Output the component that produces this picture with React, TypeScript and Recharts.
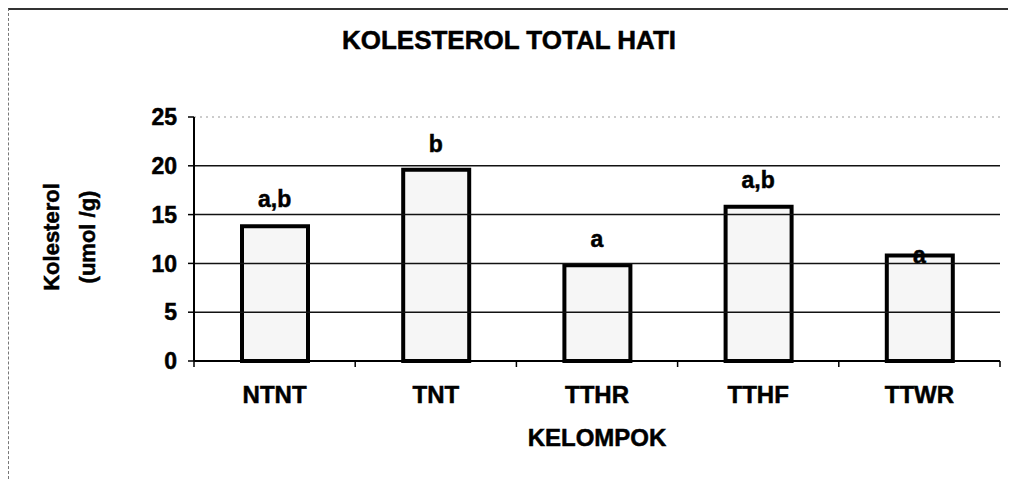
import { Bar, ComposedChart, LabelList, Line, ReferenceLine, XAxis, YAxis } from 'recharts';

const categories = ['NTNT', 'TNT', 'TTHR', 'TTHF', 'TTWR'];
const values = [13.8, 19.6, 9.8, 15.8, 10.8];
const letters = ['a,b', 'b', 'a', 'a,b', 'a'];
// where the significance letters sit (baseline, in axis units)
const letterAt = [15.8, 21.4, 11.7, 17.7, 10.0];
const yTicks = [0, 5, 10, 15, 20, 25];
const gridValues = [5, 10, 15, 20];

const data = categories.map((name, i) => ({
	name,
	value: values[i],
	letter: letters[i],
	letterAt: letterAt[i],
}));

const W = 1011;
const H = 479;
const margin = { top: 117, right: 11, bottom: 0, left: 134 };
const Y_AXIS_W = 60;
const X_AXIS_H = 118;
const plotW = W - margin.left - margin.right - Y_AXIS_W;
const band = plotW / categories.length;

const font = '"Liberation Sans", Arial, sans-serif';
const heavy = { fontFamily: font, fontWeight: 'bold' as const, WebkitTextStroke: '0.5px #000' };

function XTick(props: any) {
	const { x, y, payload, index } = props;
	return (
		<g>
			<line x1={x - band / 2} y1={y} x2={x - band / 2} y2={y + 6} stroke="#000" strokeWidth={1.5} />
			{index === categories.length - 1 && (
				<line x1={x + band / 2} y1={y} x2={x + band / 2} y2={y + 6} stroke="#000" strokeWidth={1.5} />
			)}
			<text
				x={x}
				y={y + 42}
				textAnchor="middle"
				fontFamily={font}
				fontWeight="bold"
				fontSize={24}
				fill="#000"
				stroke="#000"
				strokeWidth={0.5}
			>
				{payload.value}
			</text>
		</g>
	);
}

function LetterLabel(props: any) {
	const { x, y, value } = props;
	return (
		<text
			x={x}
			y={y}
			textAnchor="middle"
			fontFamily={font}
			fontWeight="bold"
			fontSize={23}
			fill="#000"
			stroke="#000"
			strokeWidth={0.5}
		>
			{value}
		</text>
	);
}

export default function App() {
	return (
		<div style={{ position: 'absolute', left: 0, top: 0, width: W, height: H, background: '#fff' }}>
			<div
				style={{
					position: 'absolute',
					left: 8,
					top: 8,
					width: 1000,
					height: 471,
					borderTop: '2px solid #333',
					borderLeft: '1px dashed #777',
					boxSizing: 'border-box',
				}}
			/>
			<div
				style={{
					...heavy,
					position: 'absolute',
					left: 0,
					top: 27,
					width: 1018,
					textAlign: 'center',
					fontSize: 26,
					lineHeight: '26px',
				}}
			>
				KOLESTEROL TOTAL HATI
			</div>
			<div
				style={{
					...heavy,
					position: 'absolute',
					left: -10,
					top: 201,
					width: 160,
					height: 72,
					transform: 'rotate(-90deg)',
					textAlign: 'center',
					fontSize: 22,
					lineHeight: '36px',
				}}
			>
				Kolesterol
				<br />
				(umol /g)
			</div>
			<div
				style={{
					...heavy,
					position: 'absolute',
					left: 497,
					top: 426,
					width: 200,
					textAlign: 'center',
					fontSize: 24,
					lineHeight: '24px',
				}}
			>
				KELOMPOK
			</div>
			<div style={{ position: 'absolute', left: 0, top: 0 }}>
				<ComposedChart width={W} height={H} data={data} margin={margin}>
					{gridValues.map((v) => (
						<ReferenceLine key={v} y={v} stroke="#111" strokeWidth={1.5} />
					))}
					<ReferenceLine y={25} stroke="#999" strokeWidth={1} strokeDasharray="2 4" />
					<XAxis
						dataKey="name"
						height={X_AXIS_H}
						axisLine={{ stroke: '#000', strokeWidth: 2 }}
						tickLine={false}
						tickSize={0}
						tickMargin={0}
						tick={<XTick />}
						interval={0}
					/>
					<YAxis
						width={Y_AXIS_W}
						domain={[0, 25]}
						ticks={yTicks}
						interval={0}
						axisLine={{ stroke: '#000', strokeWidth: 2 }}
						tickLine={{ stroke: '#000', strokeWidth: 1.5 }}
						tickSize={6}
						tickMargin={11}
						tick={{
							fill: '#000',
							stroke: '#000',
							strokeWidth: 0.5,
							fontFamily: font,
							fontWeight: 'bold',
							fontSize: 23,
						}}
					/>
					<YAxis
						yAxisId="r"
						orientation="right"
						width={0}
						domain={[0, 25]}
						ticks={yTicks}
						tick={false}
						tickLine={false}
						axisLine={{ stroke: '#888', strokeWidth: 1, strokeDasharray: '2 3' }}
					/>
					<Bar
						dataKey="value"
						barSize={66}
						fill="#f6f6f6"
						stroke="#000"
						strokeWidth={4}
						isAnimationActive={false}
					/>
					<Line
						dataKey="letterAt"
						stroke="none"
						dot={false}
						activeDot={false}
						isAnimationActive={false}
					>
						<LabelList dataKey="letter" content={<LetterLabel />} />
					</Line>
				</ComposedChart>
			</div>
		</div>
	);
}
